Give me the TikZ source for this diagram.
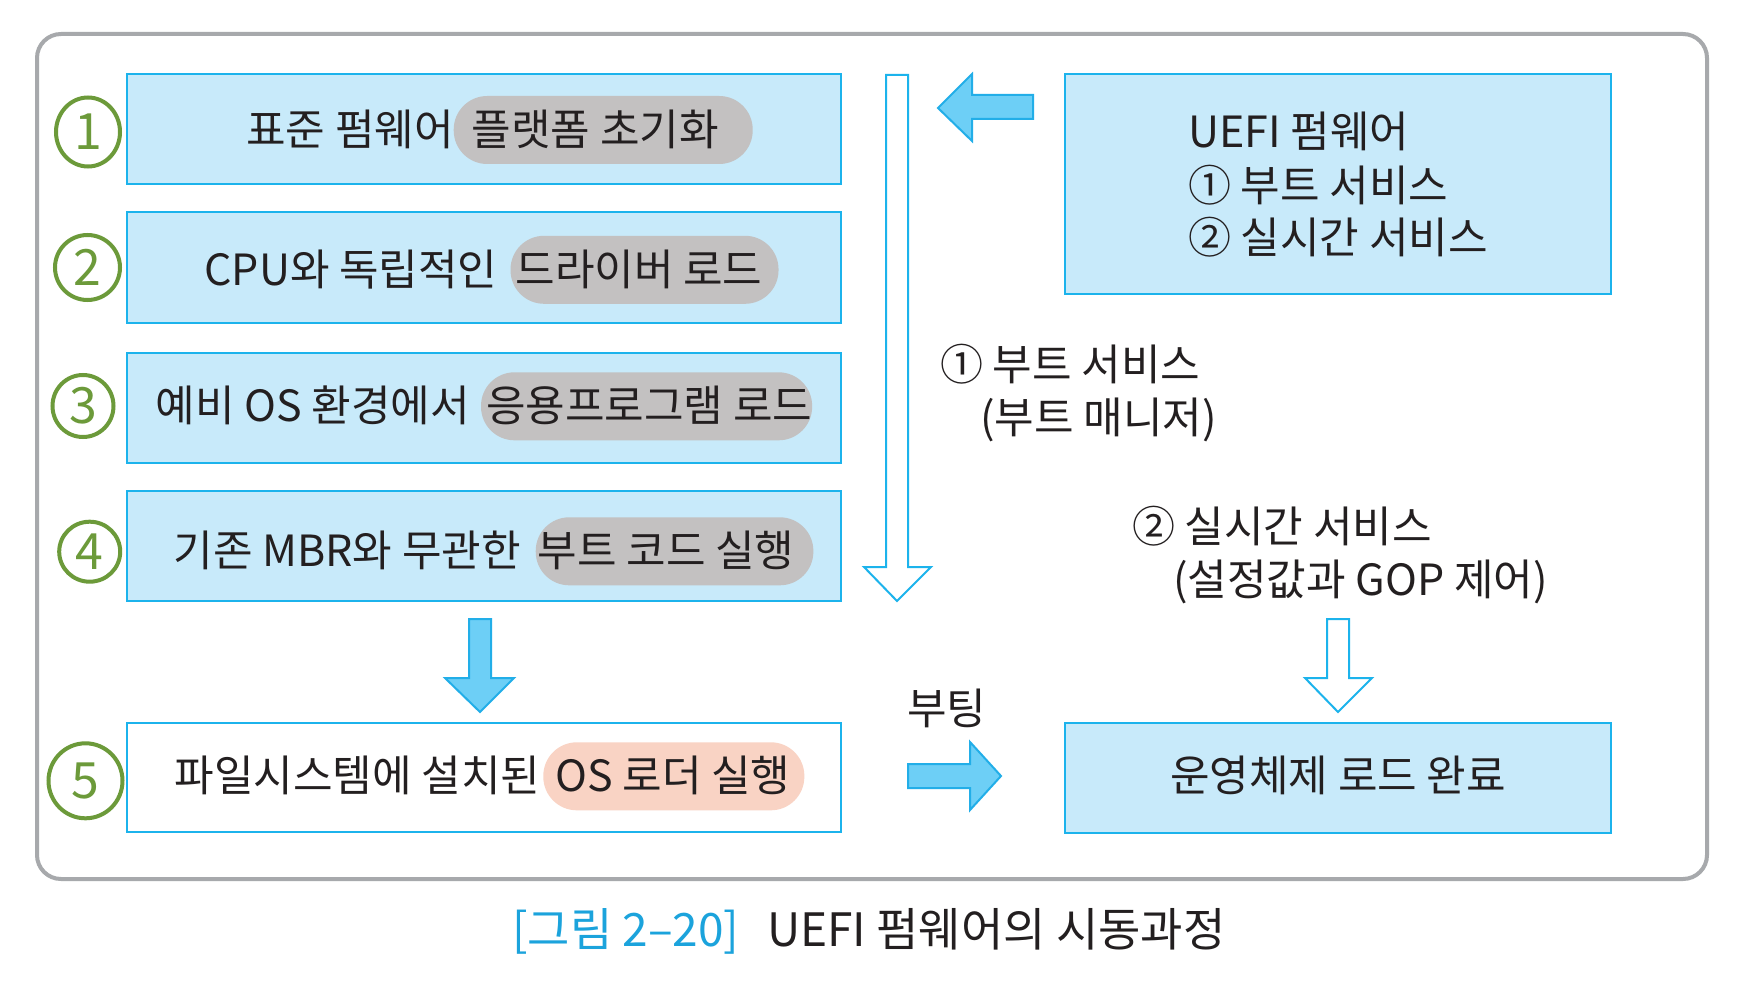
\documentclass[tikz,border=0pt]{standalone}
\usepackage{fontspec}
\setmainfont{Noto Sans CJK KR}
\usetikzlibrary{shapes.geometric}
\definecolor{boxfill}{HTML}{C8EAFA}
\definecolor{boxline}{HTML}{1CB3EC}
\definecolor{pillgray}{HTML}{C3C1C1}
\definecolor{pillsalmon}{HTML}{F9D3C4}
\definecolor{arrfill}{HTML}{6DCFF6}
\definecolor{arrline}{HTML}{22AEE8}
\definecolor{framegray}{HTML}{A7A9AC}
\definecolor{txtcol}{HTML}{231F20}
\definecolor{capblue}{HTML}{1BA3DC}
\definecolor{numgreen}{HTML}{6C9A3A}
\newcommand\pl[4]{\tikz[baseline=(p.base)]\node[fill=#1,rounded corners=33.5pt,minimum height=68pt,inner xsep=0pt,inner ysep=0pt,text height=34pt,text depth=3pt](p){\hspace*{#2}#4\hspace*{#3}};}
\begin{document}
\begin{tikzpicture}[x=1pt,y=-1pt,
  box/.style={draw=boxline, line width=2pt, fill=boxfill, inner sep=0pt},
  lbl/.style={font=\fontsize{43pt}{53pt}\selectfont, text=txtcol, inner sep=0pt},
  hollowarrow/.style={draw=boxline, line width=2pt, fill=white, line join=miter},
  blockarrow/.style={draw=arrline, line width=2pt, fill=arrfill, line join=miter},
  num/.style={draw=numgreen, line width=4pt, ellipse, inner sep=0pt, text=numgreen, font=\fontsize{50pt}{50pt}\selectfont}]
\useasboundingbox (0,0) rectangle (1742,1000);
\fill[white] (0,0) rectangle (1742,1000);
\draw[framegray, line width=4pt, rounded corners=24pt] (37,34) rectangle (1707,879);

% left boxes
\node[box, minimum width=714.5pt, minimum height=110pt] (b1) at (483.75,129) {};
\node[box, minimum width=714.5pt, minimum height=111pt] (b2) at (483.75,267.5) {};
\node[box, minimum width=714.5pt, minimum height=110pt] (b3) at (483.75,408) {};
\node[box, minimum width=714.5pt, minimum height=110pt] (b4) at (483.75,546) {};
\node[box, fill=white, minimum width=714.5pt, minimum height=109pt] (b5) at (483.75,777.5) {};
% right boxes
\node[box, minimum width=546pt, minimum height=220pt] (u) at (1338,184.2) {};
\node[box, minimum width=546pt, minimum height=110pt] (os) at (1338,777.7) {};

% left texts
\node[lbl] (t1) at (499.5,130) {표준 펌웨어\pl{pillgray}{18pt}{34pt}{플랫폼 초기화}};
\node[lbl] (t2) at (491.5,269.8) {CPU와 독립적인\hspace{13pt}\pl{pillgray}{5pt}{16pt}{드라이버 로드}};
\node[lbl] (t3) at (484,406.3) {예비 OS 환경에서\hspace{11pt}\pl{pillgray}{5pt}{0pt}{응용프로그램 로드}};
\node[lbl] (t4) at (493.5,551.3) {기존 MBR와 무관한\hspace{15pt}\pl{pillgray}{2pt}{19pt}{부트 코드 실행}};
\node[lbl] (t5) at (489.5,776.3) {파일시스템에 설치된\hspace{3pt}\pl{pillsalmon}{12pt}{14pt}{OS 로더 실행}};

% UEFI box text
\node[lbl, anchor=base west] (u1) at (1188,148) {UEFI 펌웨어};
\node[lbl, anchor=base west] (u2) at (1188,202) {① 부트 서비스};
\node[lbl, anchor=base west] (u3) at (1188,254) {② 실시간 서비스};

% annotations
\node[lbl, anchor=base west] (a1) at (940,380) {① 부트 서비스};
\node[lbl, anchor=base west] (a1b) at (980,433) {(부트 매니저)};
\node[lbl, anchor=base west] (a2) at (1132,542) {② 실시간 서비스};
\node[lbl, anchor=base west] (a2b) at (1173,595) {(설정값과 GOP 제어)};
\node[lbl, anchor=base west] (bt) at (907,724) {부팅};
\node[lbl] (osl) at (1338,775.5) {운영체제 로드 완료};

% arrows
\draw[hollowarrow] (886,75) -- (908,75) -- (908,567) -- (931,567) -- (897,601) -- (864,567) -- (886,567) -- cycle;
\draw[hollowarrow] (1327,619) -- (1349,619) -- (1349,678) -- (1372,678) -- (1338,712) -- (1305,678) -- (1327,678) -- cycle;
\draw[blockarrow] (469,619) -- (491,619) -- (491,678) -- (514,678) -- (480,712) -- (445,678) -- (469,678) -- cycle;
\draw[blockarrow] (908,764) -- (970,764) -- (970,742) -- (1001,776) -- (970,810) -- (970,788) -- (908,788) -- cycle;
\draw[blockarrow] (1033,95) -- (972,95) -- (972,74) -- (938,108) -- (972,141) -- (972,119) -- (1033,119) -- cycle;

% circled numbers
\node[num, minimum width=64pt, minimum height=69pt] (c1) at (88,132) {1};
\node[num, minimum width=65pt, minimum height=65pt] (c2) at (87.5,267.5) {2};
\node[num, minimum width=61pt, minimum height=62pt] (c3) at (83,406) {3};
\node[num, minimum width=61pt, minimum height=60pt] (c4) at (89.7,551.7) {4};
\node[num, minimum width=74pt, minimum height=75pt] (c5) at (85.5,780.8) {5};

% caption
\node[anchor=base west, inner sep=0pt, font=\fontsize{46pt}{46pt}\selectfont] (cap) at (512,946) {\textcolor{capblue}{[그림 2–20]}\hspace{0.6em}\textcolor{txtcol}{UEFI 펌웨어의 시동과정}};
\end{tikzpicture}
\end{document}
